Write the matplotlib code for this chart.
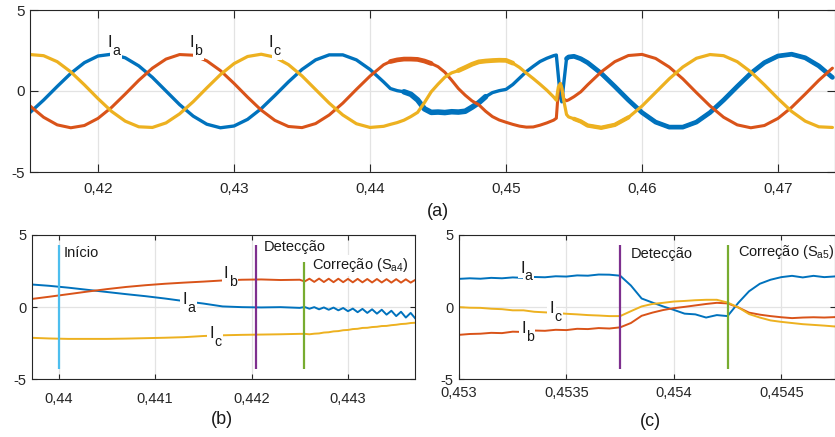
import numpy as np
import matplotlib
matplotlib.use("Agg")
import matplotlib.pyplot as plt

plt.rcParams['font.family'] = ['Liberation Sans', 'DejaVu Sans']
plt.rcParams['mathtext.default'] = 'regular'

# cores padrão do MATLAB
C_A = '#0072BD'
C_B = '#D95319'
C_C = '#EDB120'
C_INI = '#4DBEEE'
C_DET = '#7E2F8E'
C_COR = '#77AC30'
AX_COL = '#262626'
GRID_COL = '#e3e3e3'
TXT_COL = '#1a1a1a'

# ---------------- (a) visão geral (tempo em ms, corrente em A)
t_a_ms = [415, 416, 417, 418, 419, 420, 421, 422, 423, 424, 425, 426, 427, 428,
          429, 430, 431, 432, 433, 434, 435, 436, 437, 438, 439, 440, 441,
          441.5, 442, 442.5, 443, 443.5, 444, 444.5, 445, 445.5, 446, 446.5,
          447, 447.5, 448, 448.5, 449, 449.5, 450, 450.5, 451, 451.5, 452,
          452.5, 453, 453.5,
          453.7, 453.85, 454.0, 454.1, 454.25, 454.45, 454.6, 455.0, 455.5, 456.0,
          457, 458, 459, 460, 461, 462, 463, 464, 465, 466, 467, 468, 469, 470,
          471, 472, 473, 474]
ia_a = [-1.33, -0.56, 0.28, 1.09, 1.75, 2.16, 2.27, 2.05, 1.55, 0.84, 0.00, -0.84,
        -1.55, -2.05, -2.27, -2.16, -1.75, -1.09, -0.28, 0.56, 1.33, 1.92, 2.23,
        2.23, 1.92, 1.33, 0.56,
        0.15, 0.02, -0.05, -0.20, -0.55, -1.10, -1.32, -1.30, -1.33, -1.28, -1.30,
        -1.25, -1.00, -0.72, -0.35, -0.10, 0.02, 0.10, 0.40, 0.80, 1.20, 1.52,
        1.82, 2.02, 2.18,
        2.22, 0.90, -0.40, -0.67, 0.50, 2.00, 2.10, 2.14, 1.99, 1.75,
        1.09, 0.28, -0.56, -1.33, -1.92, -2.23, -2.23, -1.92, -1.33, -0.56, 0.28,
        1.09, 1.75, 2.16, 2.27, 2.05, 1.55, 0.84]
ib_a = [-0.92, -1.62, -2.09, -2.27, -2.13, -1.69, -1.01, -0.19, 0.66, 1.41, 1.97,
        2.25, 2.21, 1.86, 1.26, 0.47, -0.38, -1.18, -1.81, -2.19, -2.26, -2.01,
        -1.48, -0.75, 0.10, 0.92, 1.62,
        1.82, 1.92, 1.97, 1.97, 1.95, 1.85, 1.70, 1.50, 1.16, 0.67, 0.15, -0.26,
        -0.61, -0.85, -1.25, -1.58, -1.79, -1.93, -2.06, -2.17, -2.23, -2.22,
        -2.11, -1.97, -1.80,
        -1.68, 0.05, 0.46, 0.15, -0.50, -0.60, -0.55, -0.35, -0.05, 0.38,
        1.18, 1.81, 2.19, 2.26, 2.01, 1.48, 0.75, -0.10, -0.92, -1.62, -2.09,
        -2.27, -2.13, -1.69, -1.01, -0.19, 0.66, 1.41]
ic_a = [2.25, 2.18, 1.81, 1.18, 0.38, -0.47, -1.26, -1.86, -2.21, -2.25, -1.97,
        -1.41, -0.66, 0.19, 1.01, 1.69, 2.13, 2.27, 2.09, 1.63, 0.93, 0.09, -0.75,
        -1.48, -2.02, -2.25, -2.18,
        -2.06, -1.95, -1.80, -1.58, -1.32, -0.72, -0.05, 0.42, 0.85, 1.12, 1.26,
        1.45, 1.65, 1.80, 1.85, 1.88, 1.90, 1.89, 1.72, 1.45, 1.10, 0.77, 0.42,
        0.05, -0.37,
        -0.57, 0.25, 0.46, 0.20, -0.60, -1.45, -1.60, -1.72, -1.88, -2.13,
        -2.27, -2.09, -1.63, -0.93, -0.09, 0.75, 1.48, 2.02, 2.25, 2.18, 1.81,
        1.18, 0.38, -0.47, -1.26, -1.86, -2.21, -2.25]

# ---------------- (b) zoom no início da falha
t_b_ms = [439.7, 439.9, 440.1, 440.3, 440.5, 440.7, 440.9, 441.1, 441.3, 441.5,
          441.7, 441.9, 442.1, 442.3, 442.5,
          442.55, 442.6, 442.65, 442.7, 442.75, 442.8, 442.85, 442.9, 442.95,
          443.0, 443.05, 443.1, 443.15, 443.2, 443.25, 443.3, 443.35, 443.4,
          443.45, 443.5, 443.55, 443.6, 443.65, 443.7]
ia_b = [1.58, 1.48, 1.35, 1.20, 1.05, 0.90, 0.76, 0.60, 0.42, 0.25, 0.05, 0.00,
        -0.02, 0.00, -0.05,
        0.01, -0.11, 0.00, -0.15, -0.02, -0.18, -0.03, -0.22, -0.06, -0.28, -0.10,
        -0.35, -0.12, -0.40, -0.15, -0.45, -0.18, -0.52, -0.25, -0.62, -0.32,
        -0.72, -0.40, -0.80]
ib_b = [0.55, 0.72, 0.90, 1.08, 1.25, 1.40, 1.52, 1.62, 1.70, 1.77, 1.85, 1.90,
        1.92, 1.88, 1.90,
        1.78, 1.97, 1.75, 1.98, 1.74, 1.97, 1.73, 1.97, 1.73, 1.96, 1.72, 1.96,
        1.72, 1.95, 1.71, 1.95, 1.71, 1.94, 1.70, 1.94, 1.70, 1.93, 1.70, 1.90]
ic_b = [-2.12, -2.17, -2.20, -2.20, -2.20, -2.18, -2.15, -2.12, -2.08, -2.00,
        -1.95, -1.92, -1.90, -1.88, -1.85,
        -1.85, -1.88, -1.84, -1.82, -1.76, -1.74, -1.68, -1.66, -1.60, -1.58,
        -1.52, -1.50, -1.44, -1.43, -1.38, -1.36, -1.31, -1.30, -1.25, -1.22,
        -1.17, -1.15, -1.10, -1.08]

# ---------------- (c) zoom na segunda falha
t_c_ms = [453.00, 453.05, 453.10, 453.15, 453.20, 453.25, 453.30, 453.35, 453.40,
          453.45, 453.50, 453.55, 453.60, 453.65, 453.70, 453.75, 453.80, 453.85,
          453.90, 453.95, 454.00, 454.05, 454.10, 454.15, 454.20, 454.25, 454.30,
          454.35, 454.40, 454.45, 454.50, 454.55, 454.60, 454.65, 454.70, 454.75]
ia_c = [1.96, 2.00, 1.97, 2.03, 2.00, 2.06, 2.03, 2.09, 2.07, 2.14, 2.12, 2.20,
        2.18, 2.26, 2.25, 2.18, 1.50, 0.60, 0.32, 0.05, -0.19, -0.45, -0.50, -0.72,
        -0.55, -0.62, 0.30, 1.10, 1.62, 1.90, 2.08, 2.17, 2.06, 2.17, 2.08, 2.13]
ib_c = [-1.92, -1.86, -1.84, -1.78, -1.80, -1.70, -1.72, -1.62, -1.64, -1.57,
        -1.59, -1.50, -1.52, -1.45, -1.48, -1.40, -1.10, -0.60, -0.38, -0.20,
        -0.07, 0.02, 0.12, 0.22, 0.30, 0.26, -0.02, -0.38, -0.52, -0.62, -0.70,
        -0.76, -0.72, -0.70, -0.72, -0.69]
ic_c = [0.00, -0.04, -0.05, -0.11, -0.14, -0.22, -0.22, -0.32, -0.36, -0.40,
        -0.46, -0.50, -0.55, -0.58, -0.62, -0.62, -0.28, 0.05, 0.22, 0.30, 0.39,
        0.43, 0.48, 0.51, 0.51, 0.32, -0.02, -0.48, -0.72, -0.92, -1.02, -1.10,
        -1.18, -1.23, -1.28, -1.34]

# eventos (s) e extensão vertical das linhas
ev_b_t = [0.44, 0.44205, 0.442545]
ev_b_top = [4.3, 4.3, 3.15]
ev_b_col = [C_INI, C_DET, C_COR]
ev_c_t = [0.45375, 0.45425]
ev_c_top = [4.3, 4.3]
ev_c_col = [C_DET, C_COR]
ev_bottom = -4.3

xt_a = [0.42, 0.43, 0.44, 0.45, 0.46, 0.47]
xt_b = [0.44, 0.441, 0.442, 0.443]
xt_c = [0.453, 0.4535, 0.454, 0.4545]
yt = [-5, 0, 5]


def draw_series(ax, t_ms, y, color, lw, thick=()):
    t_ms = np.array(t_ms)
    t = t_ms / 1000.0
    y = np.array(y)
    ax.plot(t, y, color=color, lw=lw, solid_capstyle='round', zorder=2)
    # faixas onde o ripple deixa o traço mais grosso
    for t0, t1, w in thick:
        m = (t_ms >= t0) & (t_ms <= t1)
        ax.plot(t[m], y[m], color=color, lw=w, solid_capstyle='round', zorder=2)


def style_axes(ax, xticks, xlim, fs, ticklen, xpad):
    ax.set_xlim(*xlim)
    ax.set_ylim(-5, 5)
    ax.set_xticks(xticks)
    ax.set_xticklabels([str(v).replace('.', ',') for v in xticks])
    ax.set_yticks(yt)
    ax.set_yticklabels([str(v) for v in yt])
    ax.grid(True, color=GRID_COL, lw=0.9)
    ax.set_axisbelow(True)
    for s in ax.spines.values():
        s.set_color(AX_COL)
        s.set_linewidth(0.8)
    ax.tick_params(direction='in', top=True, right=True, length=ticklen,
                   width=0.8, color=AX_COL, labelcolor=AX_COL, labelsize=fs)
    ax.tick_params(axis='x', pad=xpad)
    ax.tick_params(axis='y', pad=4)


def phase_label(ax, x, y, sub, fs=12):
    # "I" com índice bem abaixo da linha de base; fundo branco corta a curva
    box = dict(facecolor='white', edgecolor='none', boxstyle='square,pad=0.12')
    parts = [('I', (0, 0), fs), (sub, (4.6, -5.6), fs * 0.85)]
    # primeiro só os fundos, depois os textos por cima
    for txt, off, size in parts:
        ax.annotate(txt, (x, y), xytext=off, textcoords='offset points',
                    ha='center', va='baseline', fontsize=size, color='none',
                    zorder=4, bbox=box)
    for txt, off, size in parts:
        ax.annotate(txt, (x, y), xytext=off, textcoords='offset points',
                    ha='center', va='baseline', fontsize=size, color=TXT_COL,
                    zorder=5)


fig = plt.figure(figsize=(8.35, 4.37), dpi=100)

# (a)
ax_a = fig.add_axes([30 / 835, 1 - 172 / 437, 805 / 835, 162 / 437])
draw_series(ax_a, t_a_ms, ia_a, C_A, 2.4, [(442.5, 448.5, 4.0), (454.45, 474, 3.4)])
draw_series(ax_a, t_a_ms, ib_a, C_B, 2.2, [(441.5, 444.5, 3.4)])
draw_series(ax_a, t_a_ms, ic_a, C_C, 2.3, [(446.5, 450.5, 3.4), (455, 459, 3.1)])
style_axes(ax_a, xt_a, (0.415, 0.47419), 11, 5.5, 7)
phase_label(ax_a, 0.42086, 2.71, 'a')
phase_label(ax_a, 0.42691, 2.71, 'b')
phase_label(ax_a, 0.43268, 2.71, 'c')

# (b)
ax_b = fig.add_axes([32 / 835, 1 - 379.3 / 437, 383 / 835, 144.3 / 437])
draw_series(ax_b, t_b_ms, ia_b, C_A, 1.4)
draw_series(ax_b, t_b_ms, ib_b, C_B, 1.4)
draw_series(ax_b, t_b_ms, ic_b, C_C, 1.4)
ax_b.vlines(ev_b_t, ev_bottom, ev_b_top, colors=ev_b_col, lw=1.6, zorder=3)
style_axes(ax_b, xt_b, (0.439723, 0.443695), 10.5, 3.5, 9)
phase_label(ax_b, 0.441305, 0.20, 'a')
phase_label(ax_b, 0.441738, 2.00, 'b')
phase_label(ax_b, 0.441583, -2.16, 'c')
ax_b.text(0.44005, 3.75, 'Início', fontsize=10.5, ha='left', va='center',
          color=TXT_COL, zorder=5)
ax_b.text(0.44213, 4.2, 'Detecção', fontsize=10.5, ha='left', va='center',
          color=TXT_COL, zorder=5, clip_on=False,
          bbox=dict(facecolor='white', edgecolor='none', boxstyle='square,pad=0.1'))
ax_b.text(0.44263, 2.9, 'Correção (S$_{a4}$)', fontsize=10.5, ha='left',
          va='center', color=TXT_COL, zorder=5,
          bbox=dict(facecolor='white', edgecolor='none', boxstyle='square,pad=0.1'))

# (c)
ax_c = fig.add_axes([459 / 835, 1 - 379.3 / 437, 376 / 835, 144.3 / 437])
draw_series(ax_c, t_c_ms, ia_c, C_A, 1.4)
draw_series(ax_c, t_c_ms, ib_c, C_B, 1.4)
draw_series(ax_c, t_c_ms, ic_c, C_C, 1.4)
ax_c.vlines(ev_c_t, ev_bottom, ev_c_top, colors=ev_c_col, lw=1.6, zorder=3)
style_axes(ax_c, xt_c, (0.453, 0.45475), 10.5, 3.5, 5)
phase_label(ax_c, 0.453295, 2.40, 'a')
phase_label(ax_c, 0.453430, -0.42, 'c')
phase_label(ax_c, 0.453300, -1.80, 'b')
ax_c.text(0.45380, 3.65, 'Detecção', fontsize=10.5, ha='left', va='center',
          color=TXT_COL, zorder=5)
ax_c.text(0.45430, 3.85, 'Correção (S$_{a5}$)', fontsize=10.5, ha='left',
          va='center', color=TXT_COL, zorder=5, clip_on=False)

fig.text(437.5 / 835, 1 - 211.5 / 437, '(a)', fontsize=13, ha='center',
         va='center', color=TXT_COL)
fig.text(222 / 835, 1 - 420 / 437, '(b)', fontsize=13, ha='center',
         va='center', color=TXT_COL)
fig.text(650 / 835, 1 - 422 / 437, '(c)', fontsize=13, ha='center',
         va='center', color=TXT_COL)

fig.savefig('out.png', dpi=100)
